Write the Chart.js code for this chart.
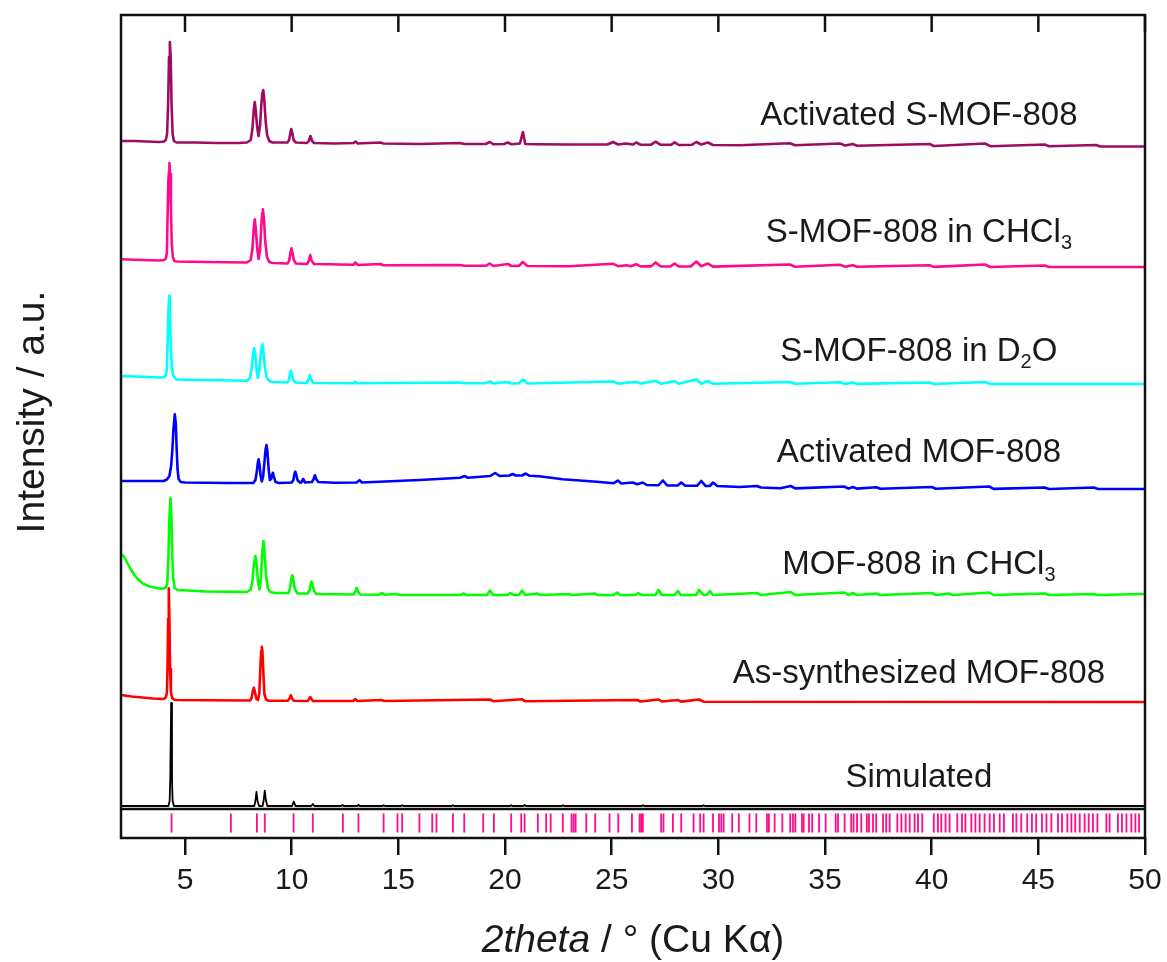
<!DOCTYPE html>
<html>
<head>
<meta charset="utf-8">
<script src="https://cdn.jsdelivr.net/npm/chart.js@4.4.1/dist/chart.umd.min.js"></script>
<style>
  body { margin: 0; background: #fff; }
  #wrap { width: 1167px; height: 962px; }
</style>
</head>
<body>
<div id="wrap"><canvas id="xrdChart" width="1167" height="962"></canvas></div>
<script>
// axis / labels
const xMin = 2;
const xMax = 50;
const yMin = -29;
const yMax = 794;
const xTicks = [5, 10, 15, 20, 25, 30, 35, 40, 45, 50];
const labelX = 39.4;

const seriesNames = [
  'Activated S-MOF-808',
  'S-MOF-808 in CHCl_3',
  'S-MOF-808 in D_2O',
  'Activated MOF-808',
  'MOF-808 in CHCl_3',
  'As-synthesized MOF-808',
  'Simulated'
];
const seriesColors = ['#9e0c62', '#ff0a8a', '#00ffff', '#0000ff', '#00ff00', '#ff0000', '#000000'];
const labelY = [693, 576, 457, 356, 244, 135, 31];

// patterns, [2theta, intensity incl. stacking offset]
const activatedSMOF = [
  [2, 668], [2.6, 668], [3.2, 667.5], [3.8, 667], [4.02, 667.5], [4.1, 669], [4.16, 675], [4.21, 705],
  [4.25, 752], [4.29, 767], [4.33, 752], [4.37, 705], [4.42, 675], [4.48, 668], [4.6, 666.5], [5.5, 666.5],
  [6.5, 666], [7.5, 666], [7.9, 666.5], [8.08, 669], [8.16, 680], [8.22, 698], [8.27, 707], [8.32, 698],
  [8.38, 682], [8.45, 673], [8.52, 684], [8.58, 705], [8.63, 716], [8.67, 719], [8.72, 708], [8.78, 688],
  [8.85, 674], [8.95, 668], [9.1, 666.5], [9.8, 666.5], [9.88, 669], [9.94, 676], [9.98, 680], [10.03, 676],
  [10.09, 669], [10.2, 666.5], [10.72, 666], [10.8, 668], [10.88, 673], [10.96, 668], [11.05, 666], [12, 665.5],
  [12.9, 666], [12.99, 667.5], [13.1, 665.5], [14.15, 666.5], [14.3, 665.5], [16, 665], [17.87, 666], [18.1, 665],
  [19.1, 665], [19.28, 667], [19.45, 664.8], [19.95, 665], [20.13, 666.5], [20.3, 664.8], [20.7, 665.5], [20.84, 677],
  [20.95, 665], [21.5, 664.7], [23, 664.5], [24.8, 664.5], [25.06, 667], [25.3, 664.5], [25.68, 665.5], [26, 664.5],
  [26.15, 666.5], [26.35, 664.3], [26.85, 664.3], [27.06, 667.3], [27.3, 664.2], [27.8, 664.2], [27.95, 666.7], [28.15, 664],
  [28.75, 664.2], [28.97, 667], [29.2, 664.5], [29.51, 666.5], [29.75, 664], [31, 663.8], [33.35, 665.8], [33.6, 663.7],
  [35.7, 665.5], [35.95, 663.5], [36.3, 665], [36.5, 663.3], [39.9, 665], [40.1, 663], [42.5, 665.5], [42.75, 662.8],
  [45.3, 664.5], [45.5, 662.7], [47.7, 664], [47.9, 662.5], [50, 662.5]
];
const smofCHCl3 = [
  [2, 549.7], [3, 549], [3.8, 548.5], [4.02, 549], [4.1, 550.5], [4.15, 556], [4.19, 600], [4.22, 628],
  [4.25, 638], [4.27, 646], [4.3, 635], [4.34, 600], [4.38, 565], [4.43, 552], [4.5, 548], [4.6, 547.5],
  [6, 547], [7.9, 546.5], [8.08, 549], [8.16, 560], [8.22, 580], [8.27, 589.7], [8.32, 580], [8.38, 562],
  [8.45, 550], [8.52, 560], [8.58, 585], [8.62, 596], [8.65, 599.7], [8.7, 590], [8.76, 568], [8.84, 552],
  [8.95, 547], [9.1, 546], [9.8, 545.5], [9.88, 548], [9.94, 556], [9.99, 560.7], [10.04, 556], [10.1, 549],
  [10.2, 545.5], [10.72, 545], [10.8, 548], [10.87, 554], [10.94, 548], [11.05, 545], [12.9, 544.3], [12.98, 546.5],
  [13.1, 544], [14.15, 545], [14.3, 543.8], [17.87, 544], [18.1, 543.2], [19.1, 543.2], [19.28, 545.5], [19.45, 543],
  [20.13, 545], [20.3, 543], [20.65, 543.2], [20.84, 547], [21.05, 543], [23, 542.8], [25.06, 545.3], [25.3, 542.8],
  [25.68, 543.8], [25.9, 542.7], [26.15, 544.8], [26.35, 542.6], [26.85, 542.6], [27.06, 546.6], [27.3, 542.5], [27.75, 542.5],
  [27.95, 545.5], [28.15, 542.5], [28.7, 542.5], [28.97, 547.5], [29.2, 542.7], [29.51, 545.5], [29.75, 542.4], [33.35, 544.5],
  [33.6, 542.3], [35.7, 544.3], [35.95, 542.2], [36.3, 543.8], [36.5, 542.2], [39.9, 543.8], [40.1, 542.1], [42.5, 544.5],
  [42.75, 542], [45.3, 543.5], [45.5, 542], [50, 542]
];
const smofD2O = [
  [2, 433], [3, 432.3], [3.8, 431.5], [4.02, 432], [4.1, 433.5], [4.15, 440], [4.19, 470], [4.23, 502],
  [4.26, 513.3], [4.29, 500], [4.33, 465], [4.38, 442], [4.45, 433], [4.6, 429.5], [6, 429], [7.9, 428.2],
  [8.05, 431], [8.13, 442], [8.19, 455], [8.24, 460.7], [8.29, 455], [8.35, 440], [8.42, 431], [8.49, 440],
  [8.55, 455], [8.6, 463], [8.63, 464.7], [8.68, 457], [8.74, 442], [8.82, 432], [8.95, 428], [9.1, 427],
  [9.8, 426.5], [9.87, 429], [9.92, 435], [9.96, 438.3], [10.01, 435], [10.07, 429], [10.18, 426.5], [10.7, 426],
  [10.78, 429], [10.85, 434], [10.92, 429], [11.02, 426], [12.9, 425.8], [12.97, 427.3], [13.1, 425.7], [17.87, 426.5],
  [18.1, 425.7], [19.1, 425.7], [19.28, 427.7], [19.45, 425.6], [20.13, 427], [20.3, 425.5], [20.65, 425.7], [20.84, 429.5],
  [21.05, 425.5], [25.06, 427.5], [25.3, 425.4], [26.15, 427.3], [26.35, 425.4], [27.06, 428.3], [27.3, 425.3], [27.95, 427.8],
  [28.15, 425.3], [28.97, 429.5], [29.2, 425.3], [29.51, 428], [29.75, 425.2], [33.35, 427], [33.6, 425.2], [35.7, 426.8],
  [35.95, 425.1], [36.3, 426.5], [36.5, 425.1], [39.9, 426.5], [40.1, 425], [42.5, 427], [42.75, 425], [50, 425]
];
const activatedMOF = [
  [2, 328], [3, 328], [4, 328], [4.15, 329.5], [4.27, 333], [4.35, 343], [4.41, 360], [4.46, 380],
  [4.52, 394.7], [4.57, 385], [4.61, 360], [4.65, 340], [4.7, 330], [4.8, 327], [5, 326.5], [7, 326],
  [8.2, 326], [8.3, 329], [8.37, 338], [8.42, 347], [8.45, 349.7], [8.49, 345], [8.54, 334], [8.6, 327.5],
  [8.66, 332], [8.72, 346], [8.78, 360], [8.82, 364], [8.86, 358], [8.92, 340], [8.98, 329], [9.04, 330],
  [9.09, 335], [9.12, 336.3], [9.16, 333], [9.24, 327], [9.4, 326], [10, 326.5], [10.08, 329], [10.13, 335],
  [10.17, 337.3], [10.21, 335], [10.27, 329], [10.38, 326.5], [10.45, 326.5], [10.54, 330], [10.63, 326.5], [10.95, 327],
  [11.03, 330], [11.09, 333.7], [11.15, 330], [11.25, 327], [12, 326.3], [13.05, 326.5], [13.18, 328.8], [13.3, 326.5],
  [14.1, 327.3], [16, 329], [17.9, 331.3], [18.1, 333], [18.25, 331.3], [19.3, 333], [19.54, 336], [19.75, 333],
  [20.2, 333.5], [20.36, 335], [20.5, 333.5], [20.8, 333.5], [20.97, 335.5], [21.15, 333.2], [21.6, 332.8], [22.7, 329.7],
  [24.3, 327.3], [25.1, 325.8], [25.29, 328.5], [25.45, 325.5], [25.99, 326.5], [26.2, 324.8], [26.46, 326.5], [26.65, 324],
  [27.2, 323.8], [27.4, 328.5], [27.6, 323.6], [28.1, 323.5], [28.26, 326.5], [28.45, 323.3], [29, 323.2], [29.2, 328],
  [29.4, 323.1], [29.6, 323], [29.75, 326.5], [29.95, 323], [31, 322], [31.8, 323], [32, 321.5], [32.9, 320.7],
  [33.4, 323], [33.6, 320.6], [35.9, 322.5], [36.1, 320.4], [36.3, 322], [36.5, 320.4], [37.4, 321.8], [37.6, 320.3],
  [40, 322], [40.2, 320.2], [42.7, 322.5], [42.9, 320.1], [45.3, 321.5], [45.5, 320], [47.6, 321.5], [47.8, 320], [50, 320]
];
const mofCHCl3 = [
  [2, 255], [2.15, 252], [2.3, 246], [2.45, 240], [2.63, 234], [2.8, 229.5], [3.02, 225.7], [3.25, 223.3],
  [3.49, 221.7], [3.88, 220.3], [4, 220.5], [4.1, 221.5], [4.17, 226], [4.22, 250], [4.27, 292], [4.32, 311],
  [4.36, 295], [4.4, 255], [4.45, 230], [4.52, 221], [4.65, 219], [6, 217.5], [7.9, 217], [8.08, 219.5],
  [8.16, 228], [8.23, 244], [8.3, 253], [8.36, 244], [8.42, 228], [8.49, 219.5], [8.56, 232], [8.62, 256],
  [8.68, 268], [8.73, 255], [8.8, 234], [8.88, 221], [9, 217], [9.2, 216], [9.85, 216], [9.92, 220],
  [9.98, 230], [10.03, 233.7], [10.08, 229], [10.15, 220], [10.28, 215.5], [10.75, 215.5], [10.84, 219], [10.89, 225],
  [10.93, 227.3], [10.98, 224], [11.05, 218], [11.15, 215], [12.9, 214.5], [12.98, 217], [13.05, 221], [13.12, 217],
  [13.22, 214.5], [14.1, 214.3], [14.24, 216], [14.38, 214.2], [14.9, 215], [15.1, 214], [17.9, 214], [18.05, 215.5],
  [18.2, 214], [19.15, 214], [19.3, 218.5], [19.45, 214], [20.1, 214], [20.25, 216], [20.4, 214], [20.65, 214],
  [20.8, 218.5], [20.95, 214], [21.5, 215.5], [21.65, 214], [23, 215], [23.15, 214], [24.2, 215.5], [24.35, 214],
  [25.1, 214], [25.25, 216.5], [25.4, 214], [26.1, 214], [26.25, 216], [26.4, 214], [27.05, 214], [27.2, 219],
  [27.35, 214], [27.95, 214], [28.1, 218], [28.25, 214], [28.95, 214], [29.1, 219], [29.3, 214], [29.45, 214],
  [29.6, 218], [29.75, 214], [31.8, 216], [32, 214], [33.4, 217], [33.6, 214], [35.9, 216.5], [36.1, 214],
  [36.3, 216], [36.5, 214], [37.4, 215.5], [37.6, 214], [40, 216], [40.2, 214], [40.8, 215.5], [41, 214],
  [42.7, 216.5], [42.9, 214], [45.3, 215.5], [45.5, 214], [47.6, 215], [47.8, 214], [50, 215]
];
const asSynthesized = [
  [2, 114], [2.5, 112.5], [3, 111.5], [3.5, 110.5], [4, 110], [4.1, 111.5], [4.15, 116], [4.18, 140],
  [4.21, 190], [4.24, 220.7], [4.27, 190], [4.3, 140], [4.34, 117], [4.4, 111], [4.5, 109.3], [4.6, 109],
  [6, 108.7], [8.05, 108.5], [8.12, 111], [8.18, 118], [8.23, 121.3], [8.28, 117], [8.35, 110], [8.42, 109],
  [8.48, 115], [8.53, 140], [8.57, 158], [8.6, 162.3], [8.63, 157], [8.67, 138], [8.72, 115], [8.8, 109.5],
  [8.9, 108.3], [9.82, 108.2], [9.9, 110.5], [9.96, 113.7], [10.02, 110.5], [10.1, 108.2], [10.75, 108], [10.82, 110],
  [10.87, 112], [10.93, 110], [11, 108], [12.88, 108], [12.98, 110], [13.08, 108], [14.2, 109], [14.35, 108],
  [19.3, 109.5], [19.45, 107.8], [20.8, 109.8], [20.95, 107.7], [26.2, 109], [26.35, 107.5], [27.2, 109.5], [27.35, 107.5],
  [28.1, 109], [28.25, 107.4], [29.1, 109.5], [29.3, 107.3], [50, 107]
];
const simulated = [
  [2, 3], [4.22, 3], [4.28, 8], [4.31, 30], [4.35, 106], [4.39, 30], [4.42, 8], [4.48, 3],
  [8.25, 3], [8.3, 8], [8.35, 17], [8.4, 8], [8.47, 3], [8.64, 3], [8.69, 9], [8.74, 18.3],
  [8.79, 9], [8.86, 3], [10.02, 3], [10.1, 7.3], [10.18, 3], [10.92, 3], [10.99, 5], [11.06, 3],
  [12.32, 3], [12.38, 4], [12.44, 3], [13.07, 3], [13.13, 4.2], [13.19, 3], [14.25, 3], [14.31, 3.8],
  [14.37, 3], [15.12, 3], [15.18, 3.8], [15.24, 3], [17.5, 3], [17.56, 3.8], [17.62, 3], [20.23, 3],
  [20.29, 3.8], [20.35, 3], [20.86, 3], [20.92, 4], [20.98, 3], [22.65, 3], [22.71, 3.8], [22.77, 3],
  [26.4, 3], [26.46, 3.8], [26.52, 3], [29.25, 3], [29.31, 3.8], [29.37, 3], [50, 3]
];

// reflection positions of the simulated pattern (bottom strip)
const reflections = [
  4.37, 7.15, 8.37, 8.74, 10.09, 10.99, 12.40, 13.13, 14.31, 14.96, 15.18, 15.99, 16.59, 16.79, 17.56, 18.09,
  18.98, 19.48, 20.29, 20.76, 20.92, 21.54, 21.93, 22.14, 22.71, 23.12, 23.22, 23.31, 23.81, 24.23, 24.9, 25.31,
  25.95, 26.31, 26.38, 26.46, 27.32, 27.43, 27.87, 28.26, 28.84, 29.15, 29.31, 29.75, 30.03, 30.14, 30.25, 30.65,
  30.96, 31.46, 31.78, 32.28, 32.37, 32.64, 33.0, 33.37, 33.5, 33.61, 33.92, 34.0, 34.25, 34.4, 34.72, 35.03,
  35.5, 35.61, 35.92, 36.23, 36.34, 36.5, 36.7, 36.96, 37.06, 37.25, 37.4, 37.72, 37.87, 38.03, 38.39, 38.58,
  38.78, 38.97, 39.2, 39.36, 39.56, 40.1, 40.29, 40.45, 40.65, 40.84, 41.2, 41.42, 41.58, 41.86, 42.05, 42.25,
  42.48, 42.72, 42.92, 43.19, 43.39, 43.81, 43.97, 44.2, 44.48, 44.7, 44.9, 45.17, 45.38, 45.61, 45.92, 46.11,
  46.36, 46.55, 46.73, 46.94, 47.17, 47.36, 47.56, 47.77, 48.19, 48.34, 48.73, 48.92, 49.13, 49.36, 49.55, 49.72
];
const reflectionY = -14;

const patterns = [activatedSMOF, smofCHCl3, smofD2O, activatedMOF, mofCHCl3, asSynthesized, simulated];

const FONT = '"Liberation Sans", Arial, Helvetica, sans-serif';
const INK = '#1a1a1a';

// text with "_x" = subscript x
function drawRich(ctx, text, cx, cy, size) {
  const parts = [];
  for (let i = 0; i < text.length; i++) {
    if (text[i] === '_') { parts.push({ t: text[i + 1], sub: true }); i++; }
    else if (parts.length && !parts[parts.length - 1].sub) parts[parts.length - 1].t += text[i];
    else parts.push({ t: text[i], sub: false });
  }
  const subSize = Math.round(size * 0.62);
  let w = 0;
  parts.forEach((p) => {
    ctx.font = (p.sub ? subSize : size) + 'px ' + FONT;
    p.w = ctx.measureText(p.t).width;
    w += p.w;
  });
  let x = cx - w / 2;
  ctx.textAlign = 'left';
  ctx.textBaseline = 'middle';
  parts.forEach((p) => {
    ctx.font = (p.sub ? subSize : size) + 'px ' + FONT;
    ctx.fillText(p.t, x, p.sub ? cy + size * 0.33 : cy);
    x += p.w;
  });
}

const framePlugin = {
  id: 'frame',
  afterDatasetsDraw(chart) {
    const { ctx, chartArea: a, scales } = chart;
    ctx.save();
    ctx.strokeStyle = '#111';
    ctx.lineWidth = 2.5;
    // lower strip separator
    const ySep = scales.y.getPixelForValue(0);
    ctx.beginPath();
    ctx.moveTo(a.left, ySep);
    ctx.lineTo(a.right, ySep);
    ctx.stroke();
    ctx.strokeRect(a.left, a.top, a.right - a.left, a.bottom - a.top);
    // inward ticks on top edge
    xTicks.forEach((v) => {
      const px = scales.x.getPixelForValue(v);
      ctx.beginPath();
      ctx.moveTo(px, a.top);
      ctx.lineTo(px, a.top + 17);
      ctx.stroke();
    });
    // series labels
    ctx.fillStyle = INK;
    seriesNames.forEach((name, i) => {
      drawRich(ctx, name, scales.x.getPixelForValue(labelX), scales.y.getPixelForValue(labelY[i]), 33);
    });
    // x axis title, "2theta" in italics
    const tx = (a.left + a.right) / 2;
    const ty = 941;
    const s1 = '2theta';
    const s2 = ' / ° (Cu Kα)';
    ctx.font = 'italic 39px ' + FONT;
    const w1 = ctx.measureText(s1).width;
    ctx.font = '39px ' + FONT;
    const w2 = ctx.measureText(s2).width;
    ctx.textBaseline = 'middle';
    ctx.textAlign = 'left';
    ctx.font = 'italic 39px ' + FONT;
    ctx.fillText(s1, tx - (w1 + w2) / 2, ty);
    ctx.font = '39px ' + FONT;
    ctx.fillText(s2, tx - (w1 + w2) / 2 + w1, ty);
    // y axis title
    ctx.translate(33, 412);
    ctx.rotate(-Math.PI / 2);
    ctx.textAlign = 'center';
    ctx.font = '39px ' + FONT;
    ctx.fillText('Intensity / a.u.', 0, 0);
    ctx.restore();
  }
};

const datasets = patterns.map((pts, i) => ({
  label: seriesNames[i],
  data: pts.map(([x, y]) => ({ x, y })),
  borderColor: seriesColors[i],
  borderWidth: i === 6 ? 1.8 : 2.6,
  borderJoinStyle: 'round',
  pointRadius: 0,
  tension: 0,
  fill: false
}));
datasets.push({
  label: 'reflections',
  data: reflections.map((x) => ({ x, y: reflectionY })),
  showLine: false,
  pointStyle: 'line',
  pointRotation: 90,
  pointRadius: 9.5,
  pointBorderWidth: 1.8,
  pointBorderColor: '#ff0a8a',
  borderColor: '#ff0a8a'
});

new Chart(document.getElementById('xrdChart'), {
  type: 'line',
  data: { datasets },
  plugins: [framePlugin],
  options: {
    responsive: false,
    animation: false,
    devicePixelRatio: 1,
    layout: { padding: { top: 15, right: 22, left: 0, bottom: 0 } },
    plugins: { legend: { display: false }, tooltip: { enabled: false } },
    scales: {
      x: {
        type: 'linear',
        min: xMin,
        max: xMax,
        afterBuildTicks: (scale) => { scale.ticks = xTicks.map((v) => ({ value: v })); },
        afterFit: (scale) => {
          scale.height = 124;
          scale.paddingLeft = 0;
          scale.paddingRight = 0;
        },
        grid: { drawOnChartArea: false, drawTicks: true, tickLength: 17, color: '#111', lineWidth: 2.5 },
        border: { display: false },
        ticks: { color: INK, padding: 8, maxRotation: 0, font: { family: FONT, size: 30 } }
      },
      y: {
        type: 'linear',
        min: yMin,
        max: yMax,
        afterFit: (scale) => { scale.width = 121; },
        grid: { display: false },
        border: { display: false },
        ticks: { display: false }
      }
    }
  }
});
</script>
</body>
</html>
